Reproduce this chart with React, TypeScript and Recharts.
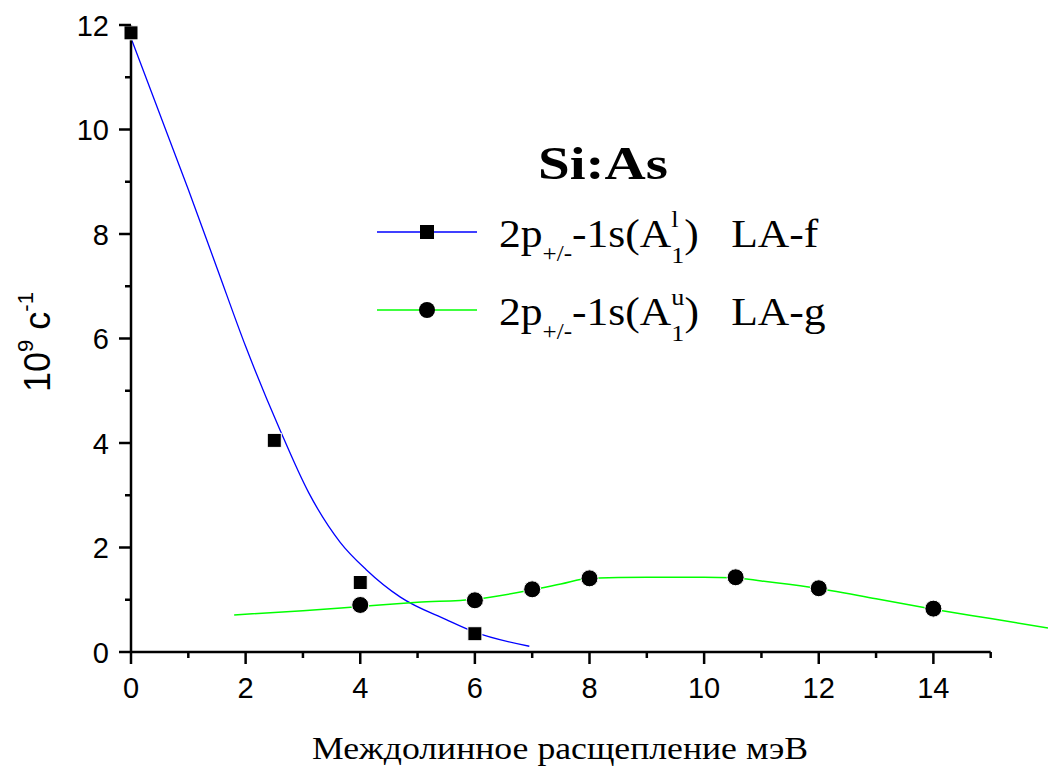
import { ComposedChart, Line, Scatter, XAxis, YAxis, ReferenceLine, Label } from "recharts";

// measured points
const squareX = [0, 2.5, 4, 6];
const squareY = [11.85, 4.05, 1.33, 0.35];
const circleX = [4, 6, 7, 8, 10.55, 12, 14];
const circleY = [0.9, 0.99, 1.2, 1.41, 1.43, 1.22, 0.83];

// fitted curves
const blueFitX = [0, 0.5, 1, 1.5, 2, 2.6, 3.1, 3.65, 4.1, 4.7, 5.5, 6, 6.95];
const blueFitY = [11.75, 10.3, 8.85, 7.35, 5.85, 4.25, 3.05, 2.1, 1.58, 1.05, 0.62, 0.38, 0.11];
const greenFitX = [1.8, 3, 4, 5, 6, 7, 7.5, 8, 9, 10, 10.5, 11, 11.85, 13, 14, 15, 16];
const greenFitY = [0.71, 0.79, 0.87, 0.95, 1.01, 1.19, 1.3, 1.41, 1.43, 1.43, 1.42, 1.36, 1.24, 1.02, 0.82, 0.64, 0.46];

const xTicks = [0, 1, 2, 3, 4, 5, 6, 7, 8, 9, 10, 11, 12, 13, 14, 15];
const yTicks = [0, 1, 2, 3, 4, 5, 6, 7, 8, 9, 10, 11, 12];

const BLUE = "#0000ff";
const GREEN = "#00ff00";
const SANS = "'Liberation Sans', Arial, sans-serif";
const SERIF = "'Liberation Serif', 'Times New Roman', serif";

const zip = (xs: number[], ys: number[]) => xs.map((x, i) => ({ x, y: ys[i] }));
const squares = zip(squareX, squareY);
const circles = zip(circleX, circleY);
const blueFit = zip(blueFitX, blueFitY);
const greenFit = zip(greenFitX, greenFitY);

const SquareDot = (p: any) => (
  <rect x={p.cx - 7} y={p.cy - 7} width={14} height={14} fill="#000" stroke="#fff" strokeWidth={1} />
);
const CircleDot = (p: any) => <circle cx={p.cx} cy={p.cy} r={8.5} fill="#000" stroke="#fff" strokeWidth={1} />;

const XTick = (p: any) => {
  const v = p.payload.value;
  const major = v % 2 === 0;
  return (
    <g>
      <line x1={p.x} x2={p.x} y1={p.y} y2={p.y + (major ? 12 : 6)} stroke="#000" strokeWidth={2.5} />
      {major && v <= 14 && (
        <text x={p.x} y={p.y + 46} textAnchor="middle" fontSize={29} fontFamily={SANS} fill="#000">
          {v}
        </text>
      )}
    </g>
  );
};

const YTick = (p: any) => {
  const v = p.payload.value;
  const major = v % 2 === 0;
  return (
    <g>
      <line x1={p.x - (major ? 12 : 6)} x2={p.x} y1={p.y} y2={p.y} stroke="#000" strokeWidth={2.5} />
      {major && (
        <text x={p.x - 22} y={p.y + 10.5} textAnchor="end" fontSize={29} fontFamily={SANS} fill="#000">
          {v}
        </text>
      )}
    </g>
  );
};

const LegendBox = () => (
  <svg width={1048} height={771} style={{ position: "absolute", left: 0, top: 0, pointerEvents: "none" }}>
    <text x={538} y={179} fontSize={46} fontWeight="bold" fontFamily={SERIF} fill="#000" textLength={130} lengthAdjust="spacingAndGlyphs">
      Si:As
    </text>
    <line x1={377} x2={477} y1={232} y2={232} stroke={BLUE} strokeWidth={1.3} />
    <rect x={420} y={225} width={14} height={14} fill="#000" />
    <g transform="translate(499,0) scale(1.09,1) translate(-499,0)">
      <text x={499} y={247} fontSize={40} fontFamily={SERIF} fill="#000">
        2p<tspan fontSize={23} dy={14}>+/-</tspan>
        <tspan dy={-14}>-1s(A</tspan>
        <tspan fontSize={24} dy={-20}>l</tspan>
        <tspan fontSize={24} dx={-6.7} dy={36}>1</tspan>
        <tspan dy={-16}>)</tspan>
        <tspan x={712} y={247}>LA-f</tspan>
      </text>
    </g>
    <line x1={377} x2={477} y1={310} y2={310} stroke={GREEN} strokeWidth={1.3} />
    <circle cx={427} cy={310} r={8} fill="#000" />
    <g transform="translate(499,0) scale(1.09,1) translate(-499,0)">
      <text x={499} y={325} fontSize={40} fontFamily={SERIF} fill="#000">
        2p<tspan fontSize={23} dy={14}>+/-</tspan>
        <tspan dy={-14}>-1s(A</tspan>
        <tspan fontSize={24} dy={-20}>u</tspan>
        <tspan fontSize={24} dx={-12} dy={36}>1</tspan>
        <tspan dy={-16}>)</tspan>
        <tspan x={712} y={325}>LA-g</tspan>
      </text>
    </g>
  </svg>
);

export default function App() {
  return (
    <div style={{ position: "absolute", left: 0, top: 0, width: 1048, height: 771, background: "#fff" }}>
      <ComposedChart width={1048} height={771} margin={{ top: 25, right: 0, bottom: 0, left: 0 }}>
        <XAxis
          type="number"
          dataKey="x"
          domain={[0, 16]}
          ticks={xTicks}
          interval={0}
          height={119}
          axisLine={false}
          tickLine={false}
          tickSize={0}
          tickMargin={0}
          tick={<XTick />}
        >
          <Label
            content={() => (
              <text x={312} y={759} fontSize={32} fontFamily={SERIF} fill="#000" textLength={496} lengthAdjust="spacingAndGlyphs">
                Междолинное расщепление мэВ
              </text>
            )}
          />
        </XAxis>
        <YAxis
          type="number"
          dataKey="y"
          domain={[0, 12]}
          ticks={yTicks}
          interval={0}
          width={131}
          axisLine={{ stroke: "#000", strokeWidth: 2.5 }}
          tickLine={false}
          tickSize={0}
          tickMargin={0}
          tick={<YTick />}
        >
          <Label
            content={() => (
              <text transform="rotate(-90, 50, 392)" x={50} y={392} fontSize={36} fontFamily={SANS} fill="#000">
                10<tspan fontSize={22} dy={-17}>9</tspan>
                <tspan fontSize={36} dy={17}> c</tspan>
                <tspan fontSize={22} dy={-17}>-1</tspan>
              </text>
            )}
          />
        </YAxis>
        <ReferenceLine
          segment={[
            { x: 0, y: 0 },
            { x: 15, y: 0 },
          ]}
          stroke="#000"
          strokeWidth={2.5}
        />
        <Line data={blueFit} dataKey="y" type="monotone" stroke={BLUE} strokeWidth={1.3} dot={false} isAnimationActive={false} />
        <Line data={greenFit} dataKey="y" type="monotone" stroke={GREEN} strokeWidth={1.5} dot={false} isAnimationActive={false} />
        <Scatter data={squares} dataKey="y" shape={<SquareDot />} isAnimationActive={false} />
        <Scatter data={circles} dataKey="y" shape={<CircleDot />} isAnimationActive={false} />
      </ComposedChart>
      <LegendBox />
    </div>
  );
}
